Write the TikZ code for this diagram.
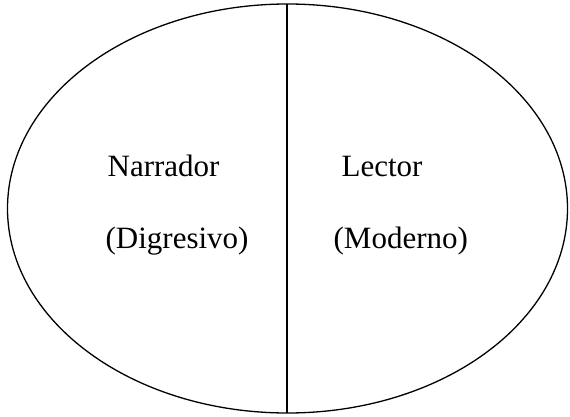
\documentclass[tikz,border=0pt]{standalone}
\usepackage{fontspec}
\setmainfont{Liberation Serif}
\tikzset{lbl/.style={anchor=base west, inner sep=0pt, font=\fontsize{31}{36}\selectfont}}
\begin{document}
\begin{tikzpicture}[x=1pt,y=-1pt,line width=1.3pt]
\useasboundingbox (0,0) rectangle (570,417);
\draw (287.5,208.5) ellipse [x radius=280, y radius=204.5];
\coordinate (top) at (287,4);
\coordinate (bot) at (287,413);
\draw (top) -- (bot);
\node[lbl] (n1) at (107,176) {Narrador};
\node[lbl] (n2) at (105,248) {(Digresivo)};
\node[lbl] (l1) at (341,176) {Lector};
\node[lbl] (l2) at (333,248) {(Moderno)};
\end{tikzpicture}
\end{document}
